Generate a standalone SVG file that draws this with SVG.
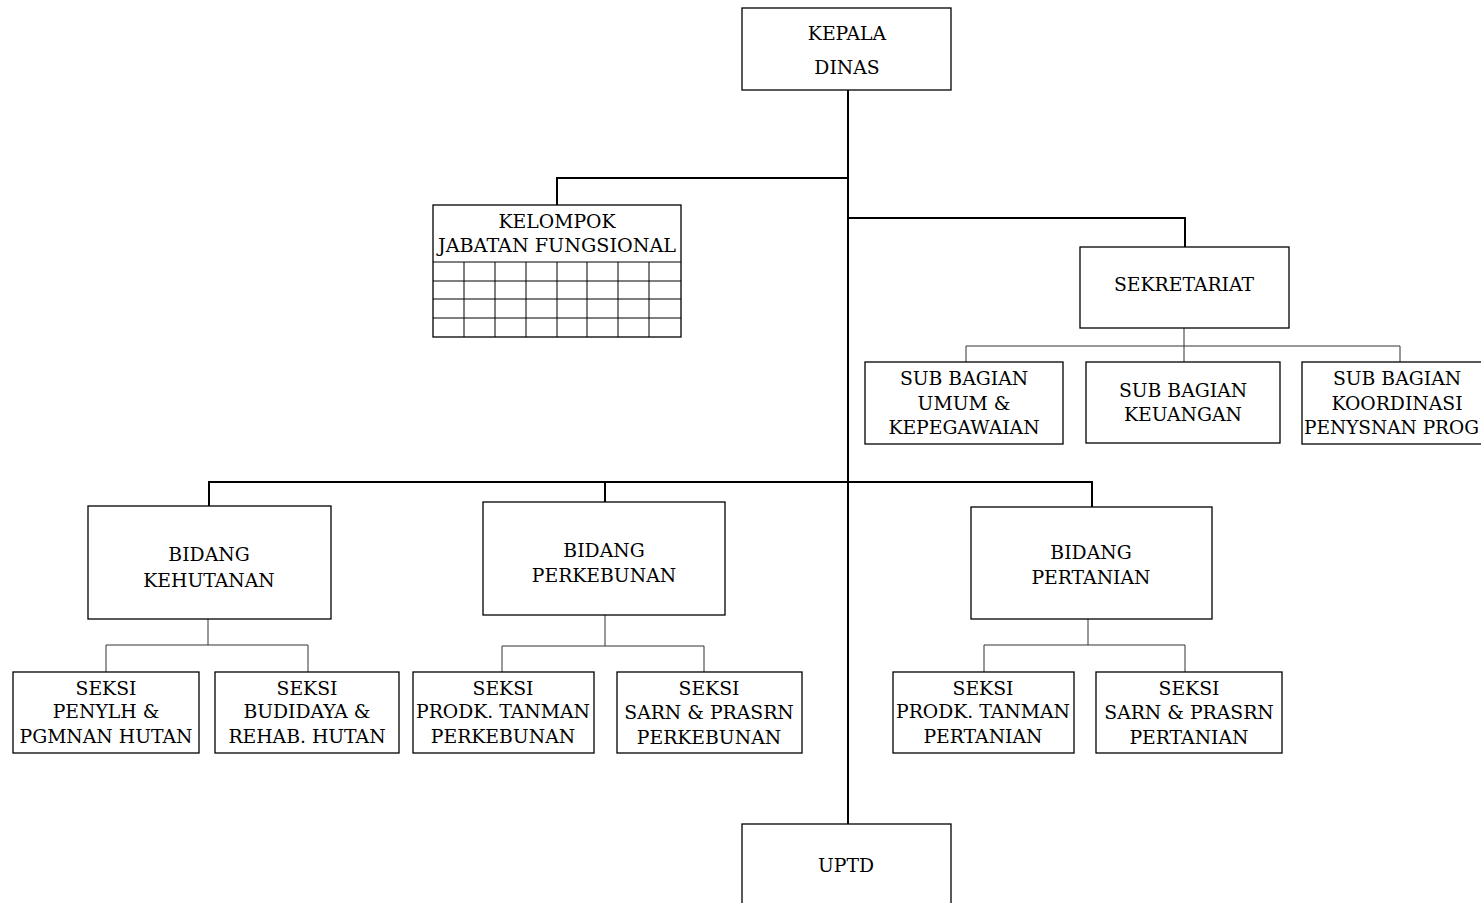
<svg xmlns="http://www.w3.org/2000/svg" width="1481" height="903" viewBox="0 0 1481 903">
<style>
.box{fill:#fff;stroke:#000;stroke-width:1.3}
.grid{fill:none;stroke:#000;stroke-width:1}
.main{fill:none;stroke:#000;stroke-width:2}
.sub{fill:none;stroke:#333;stroke-width:1}
text{font-family:'DejaVu Serif','Liberation Serif',serif;font-size:18.8px;fill:#000;text-anchor:middle}
</style>
<rect width="1481" height="903" fill="#fff"/>
<g id="connectors">
<path class="main" d="M848 90V825"/>
<path class="main" d="M848 178H557V205"/>
<path class="main" d="M848 218H1185V247"/>
<path class="main" d="M209 506V482H1092V507"/>
<path class="main" d="M605 482V502"/>
<path class="sub" d="M1184 328V346M966 362V346H1400V362M1184 346V362"/>
<path class="sub" d="M208 619V645M106 672V645H308V672"/>
<path class="sub" d="M605 615V646M502 672V646H704V672"/>
<path class="sub" d="M1088 619V645M984 672V645H1185V672"/>
</g>
<g id="kepala"><rect class="box" x="742" y="8" width="209" height="82"/><text x="847" y="40">KEPALA</text><text x="847" y="74">DINAS</text></g>
<g id="kelompok"><rect class="box" x="433" y="205" width="248" height="132"/>
<path class="grid" d="M433 262H681M433 281H681M433 299H681M433 318H681M464 262V337M495 262V337M526 262V337M557 262V337M587 262V337M618 262V337M649 262V337"/>
<text x="557" y="228">KELOMPOK</text><text x="557" y="252" textLength="238" lengthAdjust="spacingAndGlyphs">JABATAN FUNGSIONAL</text></g>
<g id="sekretariat"><rect class="box" x="1080" y="247" width="209" height="81"/><text x="1184" y="291">SEKRETARIAT</text></g>
<g id="sb-umum"><rect class="box" x="865" y="362" width="198" height="82"/><text x="964" y="385">SUB BAGIAN</text><text x="964" y="410">UMUM &amp;</text><text x="964" y="434">KEPEGAWAIAN</text></g>
<g id="sb-keuangan"><rect class="box" x="1086" y="362" width="194" height="81"/><text x="1183" y="397">SUB BAGIAN</text><text x="1183" y="421">KEUANGAN</text></g>
<g id="sb-koordinasi"><rect class="box" x="1302" y="362" width="195" height="82"/><text x="1397" y="385">SUB BAGIAN</text><text x="1397" y="410">KOORDINASI</text><text x="1304" y="434" style="text-anchor:start" textLength="175" lengthAdjust="spacingAndGlyphs">PENYSNAN PROG</text></g>
<g id="bidang-kehutanan"><rect class="box" x="88" y="506" width="243" height="113"/><text x="209" y="561">BIDANG</text><text x="209" y="587">KEHUTANAN</text></g>
<g id="bidang-perkebunan"><rect class="box" x="483" y="502" width="242" height="113"/><text x="604" y="557">BIDANG</text><text x="604" y="582">PERKEBUNAN</text></g>
<g id="bidang-pertanian"><rect class="box" x="971" y="507" width="241" height="112"/><text x="1091" y="559">BIDANG</text><text x="1091" y="584">PERTANIAN</text></g>
<g id="seksi-penylh"><rect class="box" x="13" y="672" width="186" height="81"/><text x="106" y="695">SEKSI</text><text x="106" y="718">PENYLH &amp;</text><text x="106" y="743">PGMNAN HUTAN</text></g>
<g id="seksi-budidaya"><rect class="box" x="215" y="672" width="184" height="81"/><text x="307" y="695">SEKSI</text><text x="307" y="718">BUDIDAYA &amp;</text><text x="307" y="743">REHAB. HUTAN</text></g>
<g id="seksi-prodk-perkebunan"><rect class="box" x="413" y="672" width="181" height="81"/><text x="503" y="695">SEKSI</text><text x="503" y="718">PRODK. TANMAN</text><text x="503" y="743">PERKEBUNAN</text></g>
<g id="seksi-sarn-perkebunan"><rect class="box" x="617" y="672" width="185" height="81"/><text x="709" y="695">SEKSI</text><text x="709" y="719">SARN &amp; PRASRN</text><text x="709" y="744">PERKEBUNAN</text></g>
<g id="seksi-prodk-pertanian"><rect class="box" x="893" y="672" width="181" height="81"/><text x="983" y="695">SEKSI</text><text x="983" y="718">PRODK. TANMAN</text><text x="983" y="743">PERTANIAN</text></g>
<g id="seksi-sarn-pertanian"><rect class="box" x="1096" y="672" width="186" height="81"/><text x="1189" y="695">SEKSI</text><text x="1189" y="719">SARN &amp; PRASRN</text><text x="1189" y="744">PERTANIAN</text></g>
<g id="uptd"><rect class="box" x="742" y="824" width="209" height="100"/><text x="846" y="872">UPTD</text></g>
</svg>
